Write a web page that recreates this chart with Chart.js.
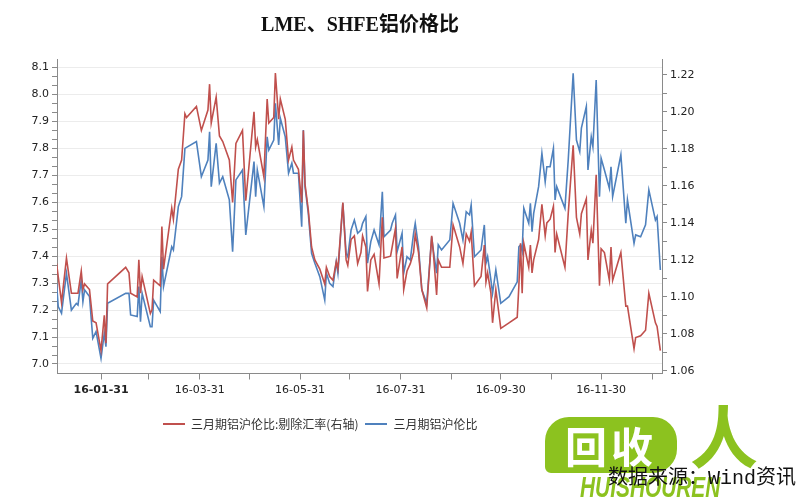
<!DOCTYPE html>
<html>
<head>
<meta charset="utf-8">
<title>LME、SHFE铝价格比</title>
<script src="https://cdn.jsdelivr.net/npm/chart.js@4.4.1/dist/chart.umd.min.js"></script>
<style>
    body { margin: 0; background: #fff; }
    #wrap { position: relative; width: 800px; height: 500px; overflow: hidden; }
    #chart { position: absolute; left: 0; top: 0; }
    #title {
        position: absolute; left: 0; top: 8px; width: 720px; text-align: center;
        font: bold 20px "Liberation Serif", "Noto Sans CJK SC", serif; color: #111;
    }
    #legend {
        position: absolute; left: 163px; top: 415px; display: flex; align-items: center;
        font: 12px "Noto Sans CJK SC", sans-serif; color: #333;
    }
    #legend .item { display: flex; align-items: center; margin-right: 7px; }
    #legend .swatch { width: 22px; height: 2px; margin-right: 6px; }
    #bubble {
        position: absolute; left: 545px; top: 417px; width: 132px; height: 56px;
        background: #8cc21f; border-radius: 24px 24px 24px 6px;
        color: #fff; font: bold 42px "Noto Sans CJK SC", sans-serif; line-height: 56px;
        text-align: center; letter-spacing: 4px;
    }
    #ren {
        position: absolute; left: 690px; top: 400px; color: #8cc21f;
        font: bold 68px "Noto Sans CJK SC", sans-serif; line-height: 1;
    }
    #pinyin {
        position: absolute; left: 580px; top: 473px; color: #8cc21f;
        font: italic bold 29px "Liberation Sans", sans-serif; line-height: 1;
        transform: scaleX(0.72); transform-origin: left top;
    }
    #source {
        position: absolute; left: 608px; top: 468px; color: #111;
        font: 20px "Liberation Mono", "Noto Sans CJK SC", monospace; line-height: 22px;
        white-space: nowrap;
    }
</style>
</head>
<body>
<div id="wrap">
    <canvas id="chart" width="800" height="500"></canvas>
    <div id="title">LME、SHFE铝价格比</div>
    <div id="legend"></div>
    <div id="bubble">回收</div>
    <div id="ren">人</div>
    <div id="pinyin">HUISHOUREN</div>
    <div id="source">数据来源：Wind资讯</div>
</div>
<script>
// days counted from 2016-01-01 (day 0)
const days = [
    3, 4, 6, 9, 12, 15, 16, 18, 19, 20, 23, 25, 27, 30, 32, 33, 34,
    45, 47, 48, 52, 53, 54, 55, 60, 61, 62, 66, 67, 68, 73, 74, 77, 79, 81, 82, 88,
    91, 95, 96, 97, 100, 102, 104, 108, 110, 112, 116, 118, 123, 124, 125, 129,
    131, 132, 135, 136, 138, 139, 142, 144, 146, 147, 150, 152, 153, 154, 156, 158,
    160, 163, 166, 167, 169, 171, 173, 174, 177, 179, 180, 182, 184, 186, 188, 189,
    191, 192, 194, 196, 199, 201, 202, 206, 207, 209, 210, 213, 214, 216, 218, 220,
    221, 223, 225, 228, 231, 232, 234, 235, 237, 242, 244, 248, 250, 252, 254, 255,
    257, 261, 263, 264, 265, 267, 268, 270, 273, 278, 283, 284, 285, 286, 287, 290,
    291, 292, 293, 296, 298, 300, 301, 303, 305, 306, 307, 312, 314, 317, 319, 321,
    322, 325, 326, 328, 329, 331, 333, 334, 336, 339, 340, 341, 346, 349, 350, 354,
    355, 358, 361, 363, 367, 368, 370
];

// 三月期铝沪伦比:剔除汇率 (right axis)
const ratioExFx = [
    1.118, 1.111, 1.097, 1.121, 1.102, 1.102, 1.102, 1.114, 1.104, 1.107, 1.104, 1.087, 1.086, 1.071, 1.090, 1.075, 1.107,
    1.116, 1.113, 1.102, 1.100, 1.120, 1.102, 1.111, 1.091, 1.093, 1.109, 1.106, 1.138, 1.115, 1.148, 1.142, 1.169, 1.174, 1.199, 1.197, 1.203,
    1.190, 1.201, 1.215, 1.194, 1.208, 1.187, 1.184, 1.174, 1.151, 1.183, 1.190, 1.152, 1.200, 1.181, 1.185, 1.165,
    1.207, 1.194, 1.197, 1.221, 1.196, 1.207, 1.196, 1.174, 1.181, 1.174, 1.169, 1.151, 1.190, 1.161, 1.147, 1.127,
    1.120, 1.115, 1.107, 1.116, 1.111, 1.109, 1.119, 1.115, 1.151, 1.120, 1.117, 1.131, 1.133, 1.118, 1.124, 1.133,
    1.127, 1.103, 1.120, 1.123, 1.107, 1.143, 1.121, 1.122, 1.127, 1.137, 1.110, 1.127, 1.104, 1.114, 1.118, 1.124,
    1.134, 1.124, 1.104, 1.094, 1.133, 1.124, 1.101, 1.120, 1.116, 1.116, 1.139, 1.127, 1.118, 1.134, 1.130, 1.135,
    1.106, 1.111, 1.128, 1.108, 1.113, 1.102, 1.086, 1.104, 1.083, 1.086, 1.089, 1.106, 1.129, 1.102, 1.129, 1.116,
    1.128, 1.113, 1.120, 1.131, 1.150, 1.133, 1.140, 1.142, 1.149, 1.124, 1.134, 1.116, 1.145, 1.182, 1.143, 1.134,
    1.145, 1.153, 1.120, 1.136, 1.129, 1.166, 1.106, 1.126, 1.124, 1.109, 1.127, 1.109, 1.124, 1.095, 1.095, 1.072,
    1.078, 1.079, 1.082, 1.102, 1.086, 1.084, 1.071
];

// 三月期铝沪伦比 (left axis)
const ratio = [
    7.299, 7.213, 7.188, 7.337, 7.200, 7.225, 7.219, 7.312, 7.231, 7.275, 7.250, 7.095, 7.120, 7.021, 7.114, 7.064, 7.225,
    7.262, 7.262, 7.182, 7.176, 7.287, 7.157, 7.262, 7.138, 7.138, 7.237, 7.194, 7.398, 7.287, 7.435, 7.423, 7.584, 7.621, 7.800, 7.804, 7.825,
    7.695, 7.757, 7.862, 7.658, 7.819, 7.671, 7.695, 7.609, 7.417, 7.683, 7.720, 7.479, 7.751, 7.621, 7.720, 7.584,
    7.843, 7.794, 7.831, 7.967, 7.813, 7.912, 7.843, 7.708, 7.745, 7.708, 7.708, 7.509, 7.868, 7.658, 7.559, 7.411,
    7.374, 7.324, 7.237, 7.337, 7.299, 7.287, 7.380, 7.337, 7.596, 7.411, 7.398, 7.497, 7.534, 7.485, 7.497, 7.522,
    7.547, 7.374, 7.454, 7.497, 7.442, 7.639, 7.472, 7.497, 7.522, 7.553, 7.417, 7.485, 7.337, 7.398, 7.386, 7.485,
    7.522, 7.435, 7.275, 7.225, 7.472, 7.423, 7.337, 7.442, 7.423, 7.460, 7.596, 7.522, 7.460, 7.565, 7.553, 7.590,
    7.398, 7.423, 7.516, 7.374, 7.398, 7.312, 7.262, 7.349, 7.225, 7.250, 7.305, 7.435, 7.442, 7.417, 7.578, 7.522,
    7.596, 7.491, 7.559, 7.658, 7.782, 7.676, 7.732, 7.732, 7.800, 7.609, 7.658, 7.578, 7.757, 8.079, 7.831, 7.788,
    7.875, 7.955, 7.720, 7.843, 7.806, 8.054, 7.621, 7.763, 7.720, 7.652, 7.732, 7.621, 7.776, 7.522, 7.609, 7.448,
    7.479, 7.472, 7.516, 7.646, 7.534, 7.547, 7.349
];

const seriesLabels = ['三月期铝沪伦比:剔除汇率(右轴)', '三月期铝沪伦比'];
const seriesColors = ['#c0504d', '#4f81bd'];

const leftTicks = [7.0, 7.1, 7.2, 7.3, 7.4, 7.5, 7.6, 7.7, 7.8, 7.9, 8.0, 8.1];
const rightTicks = [1.06, 1.08, 1.10, 1.12, 1.14, 1.16, 1.18, 1.20, 1.22];
const xTickDays = [30, 59, 90, 120, 151, 181, 212, 243, 273, 304, 334, 365];
const xTickLabels = ['16-01-31', '', '16-03-31', '', '16-05-31', '', '16-07-31', '', '16-09-30', '', '16-11-30', ''];

const axisColor = '#8a8a8a';
const labelFont = { family: '"DejaVu Sans", sans-serif', size: 11 };

function withMinors(majors, parts) {
    const out = [];
    majors.forEach((v, i) => {
        out.push({ value: v, major: true });
        if (i < majors.length - 1) {
            const step = (majors[i + 1] - v) / parts;
            for (let k = 1; k < parts; k++) out.push({ value: v + step * k, major: false });
        }
    });
    return out;
}

// HTML legend
const legendDiv = document.getElementById('legend');
seriesLabels.forEach((label, i) => {
    const item = document.createElement('div');
    item.className = 'item';
    const sw = document.createElement('span');
    sw.className = 'swatch';
    sw.style.background = seriesColors[i];
    const txt = document.createElement('span');
    txt.textContent = label;
    item.appendChild(sw);
    item.appendChild(txt);
    legendDiv.appendChild(item);
});

const ctx = document.getElementById('chart').getContext('2d');
new Chart(ctx, {
    type: 'line',
    data: {
        datasets: [
            {
                label: seriesLabels[0],
                data: days.map((d, i) => ({ x: d, y: ratioExFx[i] })),
                yAxisID: 'yRight',
                borderColor: seriesColors[0],
                backgroundColor: seriesColors[0],
                borderWidth: 1.6,
                pointRadius: 0,
                tension: 0
            },
            {
                label: seriesLabels[1],
                data: days.map((d, i) => ({ x: d, y: ratio[i] })),
                yAxisID: 'y',
                borderColor: seriesColors[1],
                backgroundColor: seriesColors[1],
                borderWidth: 1.6,
                pointRadius: 0,
                tension: 0
            }
        ]
    },
    options: {
        responsive: false,
        animation: false,
        devicePixelRatio: 1,
        layout: { padding: { top: 59, left: 0, right: 0, bottom: 0 } },
        plugins: {
            legend: { display: false },
            tooltip: { enabled: false }
        },
        scales: {
            x: {
                type: 'linear',
                position: 'bottom',
                min: 3.25,
                max: 371,
                afterBuildTicks: scale => { scale.ticks = xTickDays.map(v => ({ value: v })); },
                afterFit: scale => { scale.height = 126.5; },
                ticks: {
                    autoSkip: false,
                    maxRotation: 0,
                    padding: 4,
                    color: '#222',
                    font: c => ({ ...labelFont, weight: c.index === 0 ? 'bold' : 'normal' }),
                    callback: (value, index) => xTickLabels[index]
                },
                grid: { drawOnChartArea: false, tickLength: 6, color: axisColor, tickColor: axisColor },
                border: { color: axisColor }
            },
            y: {
                position: 'left',
                min: 6.9647,
                max: 8.1317,
                afterBuildTicks: scale => { scale.ticks = withMinors(leftTicks, 3); },
                afterFit: scale => { scale.width = 57; },
                ticks: {
                    autoSkip: false,
                    padding: 3,
                    color: '#222',
                    font: labelFont,
                    callback: function (value, index, ticks) {
                        return ticks[index].major ? value.toFixed(1) : '';
                    }
                },
                grid: {
                    tickLength: 5,
                    tickColor: axisColor,
                    color: c => (c.tick && c.tick.major) ? '#ececec' : 'rgba(0,0,0,0)'
                },
                border: { color: axisColor }
            },
            yRight: {
                position: 'right',
                min: 1.0586,
                max: 1.2286,
                afterBuildTicks: scale => { scale.ticks = withMinors(rightTicks, 2); },
                afterFit: scale => { scale.width = 138; },
                ticks: {
                    autoSkip: false,
                    padding: 3,
                    color: '#222',
                    font: labelFont,
                    callback: function (value, index, ticks) {
                        return ticks[index].major ? value.toFixed(2) : '';
                    }
                },
                grid: { drawOnChartArea: false, tickLength: 5, tickColor: axisColor, color: axisColor },
                border: { color: axisColor }
            }
        }
    }
});
</script>
</body>
</html>
